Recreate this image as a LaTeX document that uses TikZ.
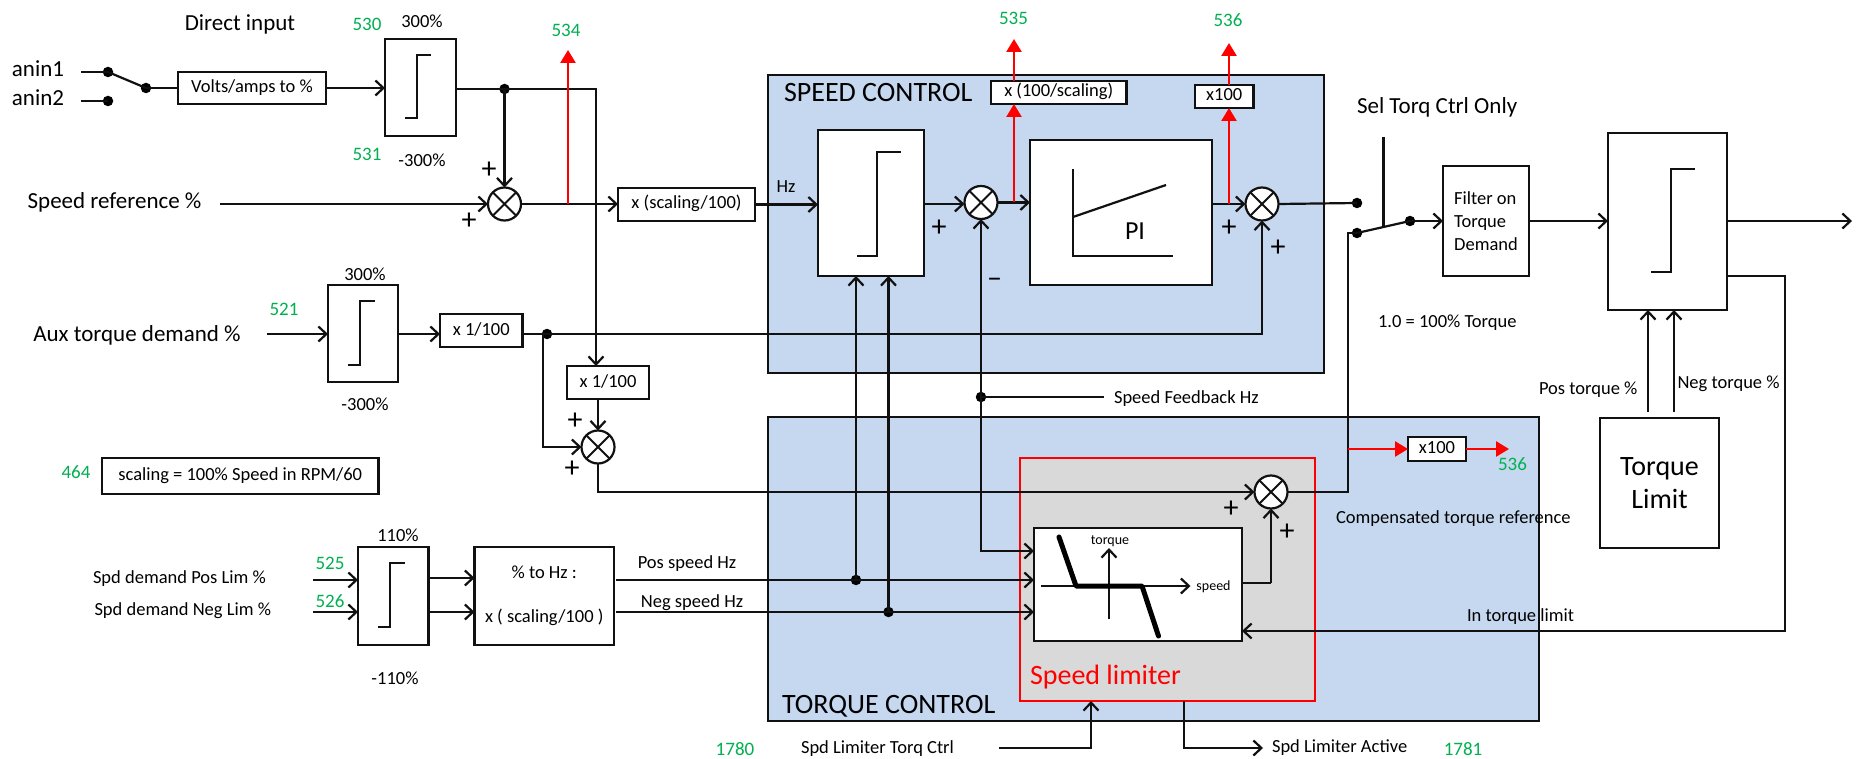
\documentclass[tikz,border=0pt]{standalone}
\usepackage{fontspec}
\setmainfont{Carlito}
\usetikzlibrary{arrows.meta,calc}
\definecolor{panelblue}{HTML}{C6D8F0}
\definecolor{panelgrey}{HTML}{D9D9D9}
\definecolor{numgreen}{HTML}{00B050}
\definecolor{inkline}{HTML}{111111}
\tikzset{
  wire/.style={draw=inkline,line width=2.2pt,line join=miter},
  wirearr/.style={wire,-{Straight Barb[length=8pt,width=15pt,line width=2.2pt]}},
  redarr/.style={draw=red,line width=2.6pt,-{Triangle[length=13pt,width=15pt]}},
  blk/.style={draw=inkline,line width=2.2pt,fill=white,inner sep=0pt,outer sep=0pt,align=center,font=\fontsize{18.5}{22}\selectfont},
  oneline/.style={text height=12pt,text depth=3pt},
  bluepanel/.style={blk,fill=panelblue},
  greypanel/.style={blk,draw=red,fill=panelgrey},
  dot/.style={circle,fill=black,inner sep=0pt,outer sep=0pt,minimum size=10.5pt},
  summer/.style={circle,draw=inkline,line width=2.2pt,fill=white,inner sep=0pt,outer sep=0pt,minimum size=33pt,
    path picture={\draw[line width=2pt,draw=inkline] (path picture bounding box.north west)--(path picture bounding box.south east)
      (path picture bounding box.north east)--(path picture bounding box.south west);}},
  lbl/.style={inner sep=0pt,outer sep=0pt,text=black,yshift=-1pt,font=\fontsize{18.5}{22}\selectfont},
  big/.style={lbl,font=\fontsize{23}{27}\selectfont},
  head/.style={lbl,font=\fontsize{28}{32}\selectfont},
  tiny/.style={lbl,font=\fontsize{14}{16}\selectfont},
  num/.style={lbl,text=numgreen,font=\fontsize{19}{22}\selectfont},
  sgn/.style={lbl,font=\fontsize{30}{32}\selectfont},
}
\newcommand{\bx}[7][]{%
  \pgfmathsetmacro\bxcx{(#3+#5)/2}\pgfmathsetmacro\bxcy{(#4+#6)/2}%
  \pgfmathsetmacro\bxw{#5-#3}\pgfmathsetmacro\bxh{#6-#4}%
  \node[blk,#1,minimum width=\bxw pt,minimum height=\bxh pt] (#2) at (\bxcx,\bxcy) {#7};}
\begin{document}
\begin{tikzpicture}[x=1pt,y=-1pt]
\useasboundingbox (0,0) rectangle (1860,759);
\fill[white] (0,0) rectangle (1860,759);
% panels
\bx[bluepanel]{speedpanel}{768}{75}{1324}{373}{}
\bx[bluepanel]{torquepanel}{768}{417}{1539}{721}{}
\bx[greypanel]{limiterpanel}{1020}{458}{1315}{701}{}
% boxes
\bx[oneline]{volts}{178}{72}{326}{104}{Volts/amps to \%}
\bx{lima}{385}{39}{456}{136}{}
\bx[oneline]{scalebox}{618}{188}{755}{221}{x (scaling/100)}
\bx{limb}{818}{130}{924}{276}{}
\bx{piblock}{1030}{140}{1212}{285}{}
\bx[oneline]{xs}{991}{81}{1126.5}{104}{x (100/scaling)}
\bx[oneline]{xh}{1195}{85}{1253.5}{108}{x100}
\bx[align=left]{filter}{1443}{166}{1529}{276}{Filter on\\[1pt]Torque\\[1pt]Demand}
\bx{limc}{1608}{133}{1727}{310}{}
\bx[font=\fontsize{28}{33}\selectfont]{tqlimit}{1600}{418}{1719}{548}{Torque\\Limit}
\bx{limd}{328}{285}{398}{382}{}
\bx[oneline]{xa}{440}{314}{522.5}{347}{x 1/100}
\bx[oneline]{xb}{567}{366}{649}{399}{x 1/100}
\bx[oneline]{scaling}{102}{458}{378.5}{494}{scaling = 100\% Speed in RPM/60}
\bx{lime}{358}{547}{428.5}{645}{}
\bx{pcthz}{474.5}{547}{614}{645}{\% to Hz :\\[22pt]x ( scaling/100 )}
\bx[oneline]{xc}{1408}{437}{1466}{461}{x100}
\bx{splim}{1034}{528}{1242}{641}{}
% summers and dots
\node[summer] (suma) at (504.5,204) {};
\node[summer] (sumb) at (981,202.5) {};
\node[summer] (sumc) at (1262,204) {};
\node[summer] (sumd) at (598,447) {};
\node[summer] (sume) at (1271,492) {};
\node[dot] (da) at (108,72) {};
\node[dot] (db) at (108,101) {};
\node[dot] (dsw) at (146,88) {};
\node[dot] (dja) at (504.5,89) {};
\node[dot] (djb) at (547,334) {};
\node[dot] (dfb) at (981,397) {};
\node[dot] (dp) at (856,580) {};
\node[dot] (dn) at (888.5,612) {};
\node[dot] (dsa) at (1357,203) {};
\node[dot] (dsb) at (1357,233) {};
\node[dot] (dsc) at (1410,221) {};
% limiter glyphs
\draw[wire] (405,118) -- (417,118) -- (417,55) -- (431,55);
\draw[wire] (857,256) -- (877,256) -- (877,152) -- (901,152);
\draw[wire] (1651,272) -- (1671,272) -- (1671,169) -- (1695,169);
\draw[wire] (348,365) -- (360,365) -- (360,301) -- (375,301);
\draw[wire] (378,627) -- (390,627) -- (390,563) -- (405,563);
\draw[wire] (1073,169) -- (1073,256) -- (1173,256);
\draw[wire] (1073,217) -- (1166,185);
\draw[wirearr] (1109,619) -- (1109,548);
\draw[wirearr] (1041,586) -- (1190.5,586);
\draw[draw=black,line width=5pt,line cap=round,line join=round] (1059,537) -- (1076,586) -- (1142,586) -- (1158.5,636);
% free ends and bends
\coordinate (ina) at (81,72);
\coordinate (inb) at (81,101);
\coordinate (bendx) at (596,89);
\coordinate (srs) at (220,204);
\coordinate (r534a) at (568,204);
\coordinate (r534b) at (568,50);
\coordinate (limbo) at (924,204);
\coordinate (r535a) at (1014,202.5);
\coordinate (r535b) at (1014,39);
\coordinate (pio) at (1212,204);
\coordinate (r536a) at (1229,204);
\coordinate (r536b) at (1229,43);
\coordinate (auxs) at (267,334);
\coordinate (auxb) at (1262,334);
\coordinate (djbd) at (543,334);
\coordinate (djbe) at (543,447);
\coordinate (sumdb) at (598,492);
\coordinate (sumeo) at (1348,492);
\coordinate (r536c) at (1348,449);
\coordinate (r536d) at (1509,449);
\coordinate (sels) at (1383.5,137);
\coordinate (selm) at ($(dsb)!0.5!(dsc)$);
\coordinate (outc) at (1852,221);
\coordinate (tla) at (1785,276);
\coordinate (tlb) at (1785,631);
\coordinate (tqa) at (1648,412);
\coordinate (tqb) at (1674,412);
\coordinate (spa) at (313,580);
\coordinate (spb) at (313,612);
\coordinate (lea) at (428.5,578);
\coordinate (leb) at (428.5,612);
\coordinate (hza) at (616,580);
\coordinate (hzb) at (616,612);
\coordinate (fbb) at (981,551);
\coordinate (fbe) at (1104,397);
\coordinate (spo) at (1242,583);
\coordinate (spm) at (1271,583);
\coordinate (lta) at (999,748);
\coordinate (ltb) at (1091,748);
\coordinate (lva) at (1184,748);
\coordinate (lvb) at (1263,748);
% wires
\draw[wire] (ina) -- (da.center);
\draw[wire] (inb) -- (db.center);
\draw[wire] (da.center) -- (dsw.center);
\draw[wire] (dsw.center) -- (volts.west);
\draw[wirearr] (volts.east) -- (volts.east -| lima.west);
\draw[wirearr] (lima.east |- dja) -- (bendx) -- (bendx |- xb.north);
\draw[wirearr] (dja.center) -- (suma.north);
\draw[wirearr] (srs) -- (suma.west);
\draw[wirearr] (suma.east) -- (suma.east -| scalebox.west);
\draw[wirearr] (scalebox.east) -- (scalebox.east -| limb.west);
\draw[wirearr] (limbo) -- (limbo -| sumb.west);
\draw[wirearr] (sumb.east) -- (sumb.east -| piblock.west);
\draw[wirearr] (pio) -- (sumc.west);
\draw[wire] (sumc.east) -- (dsa.center);
\draw[wire] (dsb.center) -- (dsc.center);
\draw[wire] (sels) -- (selm);
\draw[wirearr] (dsc.center) -- (dsc -| filter.west);
\draw[wirearr] (dsc -| filter.east) -- (dsc -| limc.west);
\draw[wirearr] (outc -| limc.east) -- (outc);
\draw[wirearr] (tla -| limc.east) -- (tla) -- (tlb) -- (tlb -| splim.east);
\draw[wirearr] (tqa) -- (tqa |- limc.south);
\draw[wirearr] (tqb) -- (tqb |- limc.south);
\draw[wirearr] (auxs) -- (auxs -| limd.west);
\draw[wirearr] (auxs -| limd.east) -- (auxs -| xa.west);
\draw[wire] (auxs -| xa.east) -- (djb.center);
\draw[wirearr] (djb.center) -- (auxb) -- (sumc.south);
\draw[wirearr] (djbd) -- (djbe) -- (sumd.west);
\draw[wirearr] (sumd |- xb.south) -- (sumd.north);
\draw[wirearr] (sumd.south) -- (sumdb) -- (sume.west);
\draw[wire] (sume.east) -- (sumeo) -- (sumeo |- dsb) -- (dsb.center);
\draw[wirearr] (spa) -- (spa -| lime.west);
\draw[wirearr] (spb) -- (spb -| lime.west);
\draw[wirearr] (lea) -- (lea -| pcthz.west);
\draw[wirearr] (leb) -- (leb -| pcthz.west);
\draw[wirearr] (hza) -- (hza -| splim.west);
\draw[wirearr] (hzb) -- (hzb -| splim.west);
\draw[wirearr] (dp.center) -- (dp |- limb.south);
\draw[wirearr] (dn.center) -- (dn |- limb.south);
\draw[wirearr] (dfb.center) -- (sumb.south);
\draw[wire] (dfb.center) -- (fbe);
\draw[wirearr] (dfb.center) -- (fbb) -- (fbb -| splim.west);
\draw[wire] (spo) -- (spm);
\draw[wirearr] (spm) -- (sume.south);
\draw[wirearr] (lta) -- (ltb) -- (ltb |- limiterpanel.south);
\draw[wirearr] (lva |- limiterpanel.south) -- (lva) -- (lvb);
% red taps
\draw[redarr] (r534a) -- (r534b);
\draw[redarr] (r535a) -- (r535a |- xs.south);
\draw[redarr] (r535a |- xs.north) -- (r535b);
\draw[redarr] (r536a) -- (r536a |- xh.south);
\draw[redarr] (r536a |- xh.north) -- (r536b);
\draw[redarr] (r536c) -- (xc.west);
\draw[redarr] (xc.east) -- (r536d);
% texts
\node[big] (tanina) at (38,68) {anin1};
\node[big] (taninb) at (38,97) {anin2};
\node[big] (tdirect) at (240,23) {Direct input};
\node[big] (tspeedref) at (114.5,201) {Speed reference \%};
\node[big] (taux) at (137,334) {Aux torque demand \%};
\node[big,anchor=west] (tsel) at (1357,106) {Sel Torq Ctrl Only};
\node[head,anchor=west] (tspeedc) at (784,92) {SPEED CONTROL};
\node[head,anchor=west] (ttorquec) at (782,705) {TORQUE CONTROL};
\node[head,text=red,anchor=west] (tlimiter) at (1030,676) {Speed limiter};
\node[lbl,font=\fontsize{26}{30}\selectfont] (tpi) at (1135,230) {PI};
\node[lbl] (thz) at (786,186) {Hz};
\node[lbl] (t300a) at (422,20) {300\%};
\node[lbl] (tm300a) at (422,159) {-300\%};
\node[lbl] (t300b) at (365,273) {300\%};
\node[lbl] (tm300b) at (365,403) {-300\%};
\node[lbl] (t110) at (398,534) {110\%};
\node[lbl] (tm110) at (395,677) {-110\%};
\node[lbl,anchor=west] (tsfb) at (1114,398) {Speed Feedback Hz};
\node[lbl,anchor=west] (ttq) at (1378,322) {1.0 = 100\% Torque};
\node[lbl,anchor=west] (tpost) at (1539,389) {Pos torque \%};
\node[lbl,anchor=west] (tnegt) at (1677.5,383) {Neg torque \%};
\node[lbl,anchor=west] (tcomp) at (1336,518) {Compensated torque reference};
\node[lbl,anchor=west] (tinlim) at (1467,616) {In torque limit};
\node[lbl,anchor=west] (tposd) at (93,578) {Spd demand Pos Lim \%};
\node[lbl,anchor=west] (tnegd) at (94.5,610) {Spd demand Neg Lim \%};
\node[lbl] (tposs) at (687,563) {Pos speed Hz};
\node[lbl] (tnegs) at (692,602) {Neg speed Hz};
\node[lbl,anchor=west] (tstq) at (801,748) {Spd Limiter Torq Ctrl};
\node[lbl,anchor=west] (tsact) at (1272,747) {Spd Limiter Active};
\node[tiny] (ttorque) at (1110,540) {torque};
\node[tiny] (tspeed) at (1213.5,586) {speed};
\node[num] (n530) at (367,23) {530};
\node[num] (n531) at (367,153) {531};
\node[num] (n534) at (566,29) {534};
\node[num] (n535) at (1013.5,17) {535};
\node[num] (n536a) at (1228,19) {536};
\node[num] (n536b) at (1512.5,463) {536};
\node[num] (n521) at (284,308) {521};
\node[num] (n464) at (76,471) {464};
\node[num] (n525) at (330,562) {525};
\node[num] (n526) at (330,600) {526};
\node[num] (n1780) at (735,748) {1780};
\node[num] (n1781) at (1463,748) {1781};
\node[sgn] (pa) at (489,169) {+};
\node[sgn] (pb) at (469,220) {+};
\node[sgn] (pc) at (575,420) {+};
\node[sgn] (pd) at (572,468) {+};
\node[sgn] (pe) at (939,227) {+};
\node[sgn] (mf) at (994.5,282) {–};
\node[sgn] (pg) at (1229,227) {+};
\node[sgn] (ph) at (1278,247) {+};
\node[sgn] (pi_) at (1231,508) {+};
\node[sgn] (pj) at (1287,531) {+};
\end{tikzpicture}
\end{document}
